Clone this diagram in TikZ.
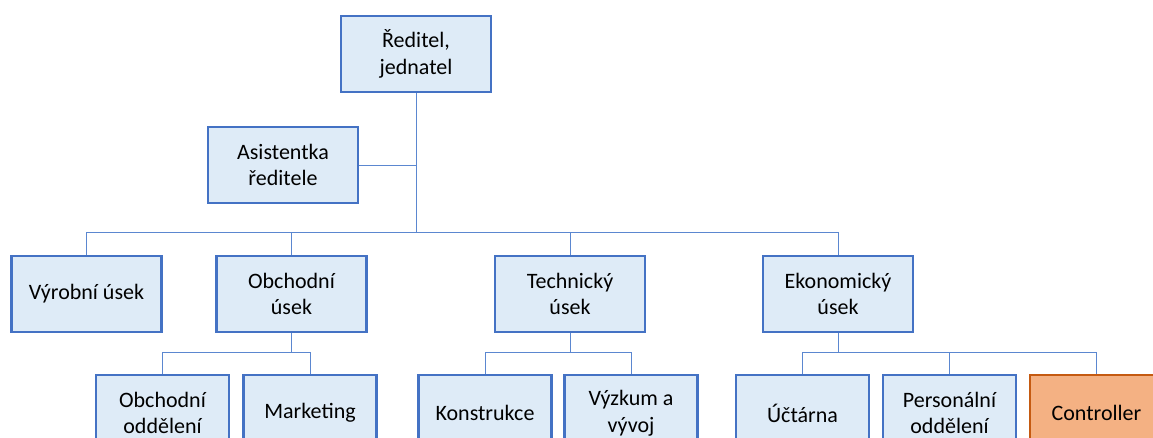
\documentclass[tikz,border=0pt]{standalone}
\usepackage{fontspec}
\setmainfont{Carlito}
\definecolor{boxfill}{HTML}{DEEBF7}
\definecolor{boxline}{HTML}{4472C4}
\definecolor{conline}{HTML}{5B87D0}
\definecolor{orfill}{HTML}{F4B183}
\definecolor{orline}{HTML}{C55A11}
\tikzset{
  orgbox/.style={draw=boxline, fill=boxfill, line width=2.2pt, rectangle,
    minimum width=150pt, minimum height=76pt, align=center, inner sep=2pt,
    font=\fontsize{22}{26.5}\selectfont, text=black},
  subbox/.style={orgbox, minimum width=133pt},
  hotbox/.style={subbox, draw=orline, fill=orfill},
  conn/.style={draw=conline, line width=1pt}
}
\begin{document}
\begin{tikzpicture}[x=1pt,y=-1pt]
\path[use as bounding box, clip] (0,0) rectangle (1153,437);
\fill[white] (0,0) rectangle (1153,437);
\coordinate (bus) at (0,232);
\coordinate (subbus) at (0,352.5);
\node[orgbox] (top) at (416,54) {Ředitel,\\jednatel};
\node[orgbox] (asist) at (283,165) {Asistentka\\ředitele};
\node[orgbox] (vyr) at (86.5,294) {Výrobní úsek};
\node[orgbox] (obch) at (291.5,294) {Obchodní\\úsek};
\node[orgbox] (tech) at (570,294) {Technický\\úsek};
\node[orgbox] (ekon) at (838,294) {Ekonomický\\úsek};
\node[subbox] (obodd) at (162.5,413) {Obchodní\\oddělení};
\node[subbox] (mark) at (310,413) {Marketing};
\node[subbox] (konst) at (485,413) {Konstrukce};
\node[subbox] (vyzk) at (631,413) {Výzkum a\\vývoj};
\node[subbox] (uct) at (802.5,413) {Účtárna};
\node[subbox] (pers) at (949.5,413) {Personální\\oddělení};
\node[hotbox] (contr) at (1096.5,413) {Controller};
% level 1
\draw[conn] (top.south) -- (top.south |- bus);
\draw[conn] (asist.east) -- (asist.east -| top.south);
\draw[conn] (vyr.north) |- (ekon.north |- bus) -- (ekon.north);
\draw[conn] (obch.north) -- (obch.north |- bus);
\draw[conn] (tech.north) -- (tech.north |- bus);
% level 2
\draw[conn] (obch.south) -- (obch.south |- subbus);
\draw[conn] (obodd.north) |- (mark.north |- subbus) -- (mark.north);
\draw[conn] (tech.south) -- (tech.south |- subbus);
\draw[conn] (konst.north) |- (vyzk.north |- subbus) -- (vyzk.north);
\draw[conn] (ekon.south) -- (ekon.south |- subbus);
\draw[conn] (uct.north) |- (contr.north |- subbus) -- (contr.north);
\draw[conn] (pers.north) -- (pers.north |- subbus);
\end{tikzpicture}
\end{document}
